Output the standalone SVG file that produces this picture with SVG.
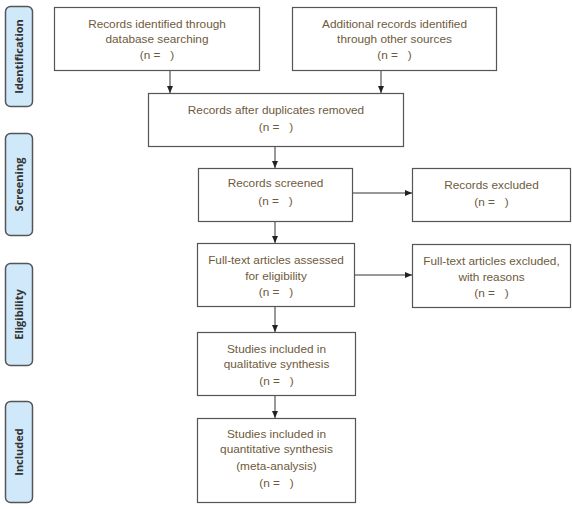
<svg xmlns="http://www.w3.org/2000/svg" width="572" height="509" viewBox="0 0 572 509">
<style>
.box{fill:#fff;stroke:#555;stroke-width:1.2}
.phase{fill:#cfe8fa;stroke:#555;stroke-width:1.5}
.t{font-family:"Liberation Sans",Arial,sans-serif;font-size:11.8px;fill:#6e5a3c;text-anchor:middle;white-space:pre}
.p{font-family:"Open Sans","DejaVu Sans",sans-serif;font-size:11px;font-weight:bold;fill:#333;text-anchor:middle}
.c{stroke:#333;stroke-width:1;fill:none;marker-end:url(#ah)}
</style>
<defs>
<marker id="ah" markerWidth="8" markerHeight="8" refX="7" refY="4" orient="auto" markerUnits="userSpaceOnUse">
<path d="M0,1 L7,4 L0,7 Z" fill="#222"/>
</marker>
</defs>
<rect width="572" height="509" fill="#fff"/>
<g id="phase-identification"><rect class="phase" x="5.5" y="6.5" width="27" height="100" rx="5"/><text class="p" transform="translate(23,56.5) rotate(-90)">Identification</text></g>
<g id="phase-screening"><rect class="phase" x="5.5" y="133.5" width="27" height="102" rx="5"/><text class="p" transform="translate(23,184.5) rotate(-90)">Screening</text></g>
<g id="phase-eligibility"><rect class="phase" x="5.5" y="263.5" width="27" height="102" rx="5"/><text class="p" transform="translate(23,314.5) rotate(-90)">Eligibility</text></g>
<g id="phase-included"><rect class="phase" x="5.5" y="401.5" width="27" height="101" rx="5"/><text class="p" transform="translate(23,452) rotate(-90)">Included</text></g>
<g id="connectors">
<line class="c" x1="170" y1="71" x2="170" y2="93"/>
<line class="c" x1="381" y1="71" x2="381" y2="93"/>
<line class="c" x1="275" y1="147" x2="275" y2="168"/>
<line class="c" x1="275" y1="222" x2="275" y2="243"/>
<line class="c" x1="275" y1="307" x2="275" y2="332"/>
<line class="c" x1="275" y1="396" x2="275" y2="418"/>
<line class="c" x1="353" y1="193" x2="412" y2="193"/>
<line class="c" x1="355" y1="275" x2="412" y2="275"/>
</g>
<g id="db-search"><rect class="box" x="54.5" y="7.5" width="205" height="63"/><text class="t" x="157" y="28">Records identified through</text><text class="t" x="157" y="43">database searching</text><text class="t" x="157" y="59">(n =&#160;&#160;&#160;)</text></g>
<g id="other-sources"><rect class="box" x="292.5" y="7.5" width="204" height="63"/><text class="t" x="394.5" y="28">Additional records identified</text><text class="t" x="394.5" y="43">through other sources</text><text class="t" x="394.5" y="59">(n =&#160;&#160;&#160;)</text></g>
<g id="dup-removed"><rect class="box" x="148.5" y="93.5" width="255" height="53"/><text class="t" x="276" y="114">Records after duplicates removed</text><text class="t" x="276" y="131">(n =&#160;&#160;&#160;)</text></g>
<g id="screened"><rect class="box" x="198.5" y="168.5" width="154" height="53"/><text class="t" x="275.5" y="187">Records screened</text><text class="t" x="275.5" y="205">(n =&#160;&#160;&#160;)</text></g>
<g id="excluded"><rect class="box" x="412.5" y="168.5" width="158" height="53"/><text class="t" x="491.5" y="189">Records excluded</text><text class="t" x="491.5" y="206">(n =&#160;&#160;&#160;)</text></g>
<g id="fulltext"><rect class="box" x="197.5" y="243.5" width="157" height="63"/><text class="t" x="276" y="264">Full-text articles assessed</text><text class="t" x="276" y="280">for eligibility</text><text class="t" x="276" y="296">(n =&#160;&#160;&#160;)</text></g>
<g id="fulltext-excluded"><rect class="box" x="412.5" y="244.5" width="158" height="63"/><text class="t" x="491.5" y="265">Full-text articles excluded,</text><text class="t" x="491.5" y="281">with reasons</text><text class="t" x="491.5" y="297">(n =&#160;&#160;&#160;)</text></g>
<g id="qualitative"><rect class="box" x="197.5" y="332.5" width="158" height="63"/><text class="t" x="276.5" y="353">Studies included in</text><text class="t" x="276.5" y="368">qualitative synthesis</text><text class="t" x="276.5" y="385">(n =&#160;&#160;&#160;)</text></g>
<g id="quantitative"><rect class="box" x="197.5" y="418.5" width="158" height="84"/><text class="t" x="276.5" y="438">Studies included in</text><text class="t" x="276.5" y="453">quantitative synthesis</text><text class="t" x="276.5" y="470">(meta-analysis)</text><text class="t" x="276.5" y="487">(n =&#160;&#160;&#160;)</text></g>
</svg>
